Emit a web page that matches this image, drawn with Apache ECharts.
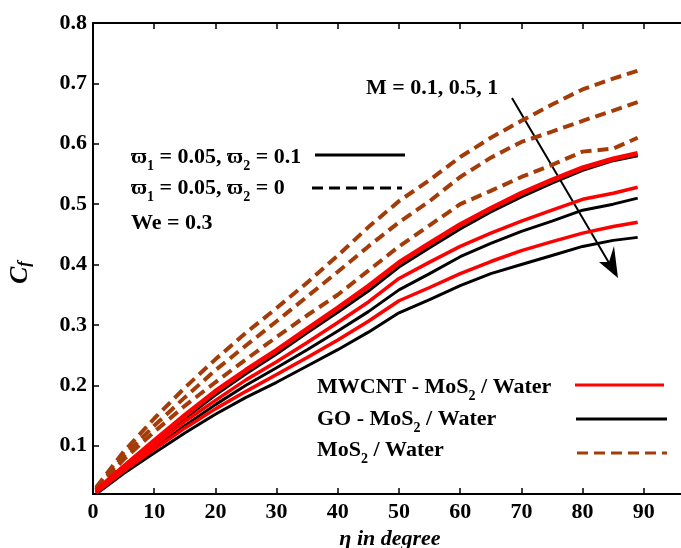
<!DOCTYPE html>
<html>
<head>
<meta charset="utf-8">
<script src="https://cdn.jsdelivr.net/npm/echarts@6/dist/echarts.min.js"></script>
<style>
html,body{margin:0;padding:0;background:#fff;}
#chart{width:681px;height:548px;}
</style>
</head>
<body>
<div id="chart"></div>
<script>
// ---- data ----
var eta = [0.5, 5, 10, 15, 20, 25, 30, 35, 40, 45, 50, 55, 60, 65, 70, 75, 80, 85, 89];
var xTicks = [0, 10, 20, 30, 40, 50, 60, 70, 80, 90];
var yTicks = [0.1, 0.2, 0.3, 0.4, 0.5, 0.6, 0.7, 0.8];

// MWCNT - MoS2 / Water (red), M = 0.1, 0.5, 1
var mwcntM01 = [0.025, 0.065, 0.108, 0.150, 0.190, 0.225, 0.258, 0.293, 0.328, 0.364, 0.403, 0.435, 0.466, 0.493, 0.518, 0.540, 0.560, 0.575, 0.584];
var mwcntM05 = [0.024, 0.062, 0.100, 0.140, 0.175, 0.209, 0.239, 0.271, 0.304, 0.338, 0.377, 0.404, 0.430, 0.452, 0.472, 0.490, 0.508, 0.518, 0.528];
var mwcntM1  = [0.022, 0.058, 0.094, 0.129, 0.161, 0.190, 0.218, 0.246, 0.275, 0.306, 0.340, 0.362, 0.385, 0.405, 0.423, 0.438, 0.452, 0.463, 0.470];

// GO - MoS2 / Water (black)
var goM01 = [0.024, 0.063, 0.104, 0.145, 0.184, 0.219, 0.252, 0.287, 0.321, 0.356, 0.396, 0.428, 0.459, 0.487, 0.512, 0.535, 0.556, 0.572, 0.580];
var goM05 = [0.022, 0.058, 0.095, 0.133, 0.168, 0.200, 0.229, 0.259, 0.290, 0.322, 0.358, 0.385, 0.413, 0.435, 0.455, 0.472, 0.490, 0.500, 0.510];
var goM1  = [0.020, 0.054, 0.088, 0.121, 0.152, 0.180, 0.205, 0.232, 0.259, 0.288, 0.320, 0.342, 0.365, 0.385, 0.400, 0.415, 0.430, 0.440, 0.445];

// MoS2 / Water (brown dashed)
var mosM01 = [0.031, 0.090, 0.145, 0.196, 0.243, 0.287, 0.328, 0.370, 0.415, 0.462, 0.505, 0.540, 0.578, 0.610, 0.638, 0.665, 0.690, 0.708, 0.721];
var mosM05 = [0.029, 0.083, 0.133, 0.180, 0.225, 0.266, 0.306, 0.347, 0.388, 0.430, 0.470, 0.505, 0.545, 0.577, 0.603, 0.620, 0.638, 0.655, 0.669];
var mosM1  = [0.027, 0.077, 0.123, 0.166, 0.205, 0.243, 0.280, 0.316, 0.350, 0.390, 0.430, 0.465, 0.500, 0.522, 0.545, 0.565, 0.587, 0.592, 0.610];

// ---- build ----
function pairs(ys){ return eta.map(function(x,i){ return [x, ys[i]]; }); }
var RED = '#ff0000', BLACK = '#000000', BROWN = '#a33c08';
var FONT = '"Liberation Serif", "Times New Roman", serif';
var FS = 22;

function line(name, ys, color, width, dashed){
  return {
    name: name, type: 'line', data: pairs(ys), symbol: 'none', smooth: false,
    lineStyle: { color: color, width: width, type: dashed ? [11, 6] : 'solid', cap: 'butt' },
    z: dashed ? 2 : (color === RED ? 4 : 3), silent: true, animation: false
  };
}

var chart = echarts.init(document.getElementById('chart'), null, {renderer: 'canvas'});

var sub = { fontFamily: FONT, fontWeight: 'bold', fontSize: 14, lineHeight: 14, verticalAlign: 'bottom', color: '#000' };
var main = { fontFamily: FONT, fontWeight: 'bold', fontSize: FS, lineHeight: 32, color: '#000' };

function richText(x, y, text){
  return {
    type: 'text', x: x, y: y, z: 10,
    style: {
      text: text,
      fill: '#000',
      font: 'bold ' + FS + 'px ' + FONT,
      verticalAlign: 'middle',
      align: 'left',
      rich: { m: main, s: sub }
    }
  };
}

var option = {
  animation: false,
  backgroundColor: '#ffffff',
  grid: { left: 93, top: 23, bottom: 54, width: 612, containLabel: false, outerBoundsMode: 'none' },
  xAxis: [{
    type: 'value', min: 0, max: 100, interval: 10, position: 'bottom',
    axisLine: { show: true, onZero: false, lineStyle: { color: '#000', width: 2 } },
    axisTick: { show: true, inside: true, length: 6, lineStyle: { color: '#000', width: 1.5 } },
    axisLabel: { show: true, margin: 7, color: '#000', fontFamily: FONT, fontWeight: 'bold', fontSize: FS,
      showMaxLabel: false,
      formatter: function(v){ return xTicks.indexOf(v) >= 0 ? String(v) : ''; } },
    splitLine: { show: false },
    name: '\u03b7 in degree', nameLocation: 'middle', nameGap: 34,
    nameTextStyle: { color: '#000', fontFamily: FONT, fontWeight: 'bold', fontStyle: 'italic', fontSize: FS, padding: [0, 18, 0, 0] }
  }, {
    type: 'value', min: 0, max: 100, interval: 10, position: 'top',
    axisLine: { show: true, onZero: false, lineStyle: { color: '#000', width: 2 } },
    axisTick: { show: true, inside: true, length: 6, lineStyle: { color: '#000', width: 1.5 } },
    axisLabel: { show: false }, splitLine: { show: false }
  }],
  yAxis: [{
    type: 'value', min: 0.02, max: 0.8,
    axisLine: { show: true, onZero: false, lineStyle: { color: '#000', width: 2 } },
    axisTick: { show: true, inside: true, length: 6, customValues: yTicks, lineStyle: { color: '#000', width: 1.5 } },
    axisLabel: { show: true, margin: 6, customValues: yTicks, color: '#000', fontFamily: FONT, fontWeight: 'bold', fontSize: FS,
      formatter: function(v){ return (Math.round(v * 10) / 10).toFixed(1); } },
    splitLine: { show: false },
    name: '{c|C}{f|f}', nameLocation: 'middle', nameGap: 60, nameRotate: 90,
    nameTextStyle: {
      padding: [0, 28, 0, 0],
      rich: {
        c: { fontFamily: FONT, fontWeight: 'bold', fontStyle: 'italic', fontSize: 26, lineHeight: 32, color: '#000', verticalAlign: 'bottom' },
        f: { fontFamily: FONT, fontWeight: 'bold', fontStyle: 'italic', fontSize: 17, lineHeight: 16, color: '#000', verticalAlign: 'bottom' }
      }
    }
  }],
  series: [
    line('MoS2 / Water, M = 0.1', mosM01, BROWN, 4, true),
    line('MoS2 / Water, M = 0.5', mosM05, BROWN, 4, true),
    line('MoS2 / Water, M = 1', mosM1, BROWN, 4, true),
    line('GO - MoS2 / Water, M = 0.1', goM01, BLACK, 3, false),
    line('GO - MoS2 / Water, M = 0.5', goM05, BLACK, 3, false),
    line('GO - MoS2 / Water, M = 1', goM1, BLACK, 3, false),
    line('MWCNT - MoS2 / Water, M = 0.1', mwcntM01, RED, 5, false),
    line('MWCNT - MoS2 / Water, M = 0.5', mwcntM05, RED, 3.5, false),
    line('MWCNT - MoS2 / Water, M = 1', mwcntM1, RED, 3.5, false)
  ],
  graphic: [
    richText(131, 157, '{m|\u03d6}{s|1}{m| = 0.05, \u03d6}{s|2}{m| = 0.1}'),
    { type: 'line', shape: { x1: 315, y1: 155, x2: 405, y2: 155 }, style: { stroke: '#000', lineWidth: 3 } },
    richText(131, 188, '{m|\u03d6}{s|1}{m| = 0.05, \u03d6}{s|2}{m| = 0}'),
    { type: 'line', shape: { x1: 312, y1: 188, x2: 402, y2: 188 }, style: { stroke: '#000', lineWidth: 3, lineDash: [11, 6] } },
    richText(131, 223, '{m|We = 0.3}'),

    richText(366, 88, '{m|M = 0.1, 0.5, 1}'),
    { type: 'line', shape: { x1: 512, y1: 98, x2: 612, y2: 268 }, style: { stroke: '#000', lineWidth: 2 } },
    { type: 'polygon', shape: { points: [[618, 278], [599, 262], [609, 262], [614, 246]] }, style: { fill: '#000' } },

    richText(317, 387, '{m|MWCNT - MoS}{s|2}{m| / Water}'),
    { type: 'line', shape: { x1: 575, y1: 385, x2: 664, y2: 385 }, style: { stroke: RED, lineWidth: 3 } },
    richText(317, 419, '{m|GO - MoS}{s|2}{m| / Water}'),
    { type: 'line', shape: { x1: 576, y1: 419, x2: 667, y2: 419 }, style: { stroke: '#000', lineWidth: 3 } },
    richText(317, 450, '{m|MoS}{s|2}{m| / Water}'),
    { type: 'line', shape: { x1: 577, y1: 453, x2: 667, y2: 453 }, style: { stroke: BROWN, lineWidth: 3, lineDash: [11, 6] } }
  ]
};
chart.setOption(option);
</script>
</body>
</html>
